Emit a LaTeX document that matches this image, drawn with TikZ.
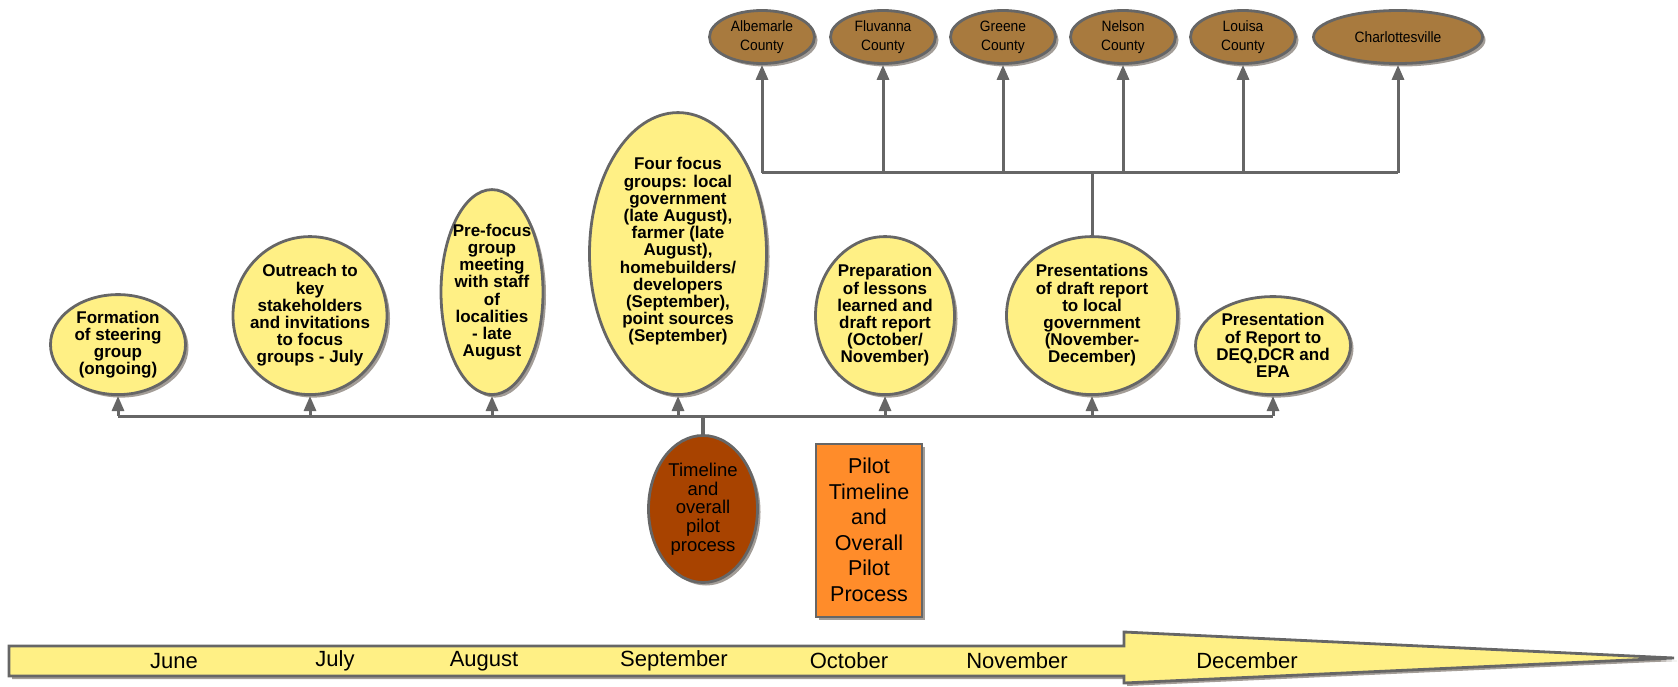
\documentclass[tikz,border=0pt]{standalone}
\usepackage{fontspec}
\setmainfont{Liberation Sans}
\newfontfamily\narrowfont[FakeStretch=0.92]{Liberation Sans}
\usetikzlibrary{shapes.geometric,arrows.meta,shadows}
\definecolor{lgray}{HTML}{666666}
\definecolor{pale}{HTML}{FFF085}
\definecolor{tan}{HTML}{A87A3E}
\definecolor{rust}{HTML}{A84300}
\definecolor{orng}{HTML}{FF8C2A}
\definecolor{shd}{HTML}{A39D97}

\begin{document}
\begin{tikzpicture}[x=1pt, y=-1pt,
  shad/.style={drop shadow={shadow xshift=3pt, shadow yshift=-3pt, fill=shd, opacity=1}},
  yel/.style={ellipse, draw=lgray, line width=2.8pt, fill=pale, shad, inner sep=0pt, anchor=south},
  ytxt/.style={align=center, font=\fontsize{17}{17.2}\selectfont\bfseries},
  cty/.style={ellipse, draw=lgray, line width=2.8pt, fill=tan, shad, inner sep=0pt, minimum width=105, minimum height=53},
  ctxt/.style={align=center, font=\narrowfont\fontsize{15}{19}\selectfont},
  mtxt/.style={font=\fontsize{22}{22}\selectfont},
  conn/.style={draw=lgray, line width=3pt, -{Triangle[width=12pt,length=15pt]}},
  wire/.style={draw=lgray, line width=3pt}]
            \useasboundingbox (0,0) rectangle (1678,687);
            % month bar
            \draw[draw=lgray, line width=2.8pt, fill=pale, shad] (9,646) -- (1124,646) -- (1124,632) -- (1674,658) -- (1124,683) -- (1124,676) -- (9,676) -- cycle;
            \foreach \mx/\mn in {174/June, 335/July, 484/August, 674/September, 849/October, 1017/November, 1247/December}
                \node[mtxt] (m-\mn) at (\mx,661) {\mn};
            % nodes
            \node[yel, minimum width=135, minimum height=100] (form) at (118,396) {};
            \node[ytxt] (form-t) at (form) {Formation\\of steering\\group\\(ongoing)};
            \node[yel, minimum width=154, minimum height=158] (outr) at (310,396) {};
            \node[ytxt] (outr-t) at (outr) {Outreach to\\key\\stakeholders\\and invitations\\to focus\\groups - July};
            \node[yel, minimum width=102, minimum height=205] (pref) at (492,396) {};
            \node[ytxt] (pref-t) at (pref) {Pre-focus\\group\\meeting\\with staff\\of\\localities\\- late\\August};
            \node[yel, minimum width=177, minimum height=282] (four) at (678,396) {};
            \node[ytxt] (four-t) at ([yshift=2pt]four.center) {Four focus\\groups: local\\government\\(late August),\\farmer (late\\August),\\homebuilders/\\developers\\(September),\\point sources\\(September)};
            \node[yel, minimum width=139, minimum height=158] (prep) at (885,396) {};
            \node[ytxt] (prep-t) at (prep) {Preparation\\of lessons\\learned and\\draft report\\(October/\\November)};
            \node[yel, minimum width=171, minimum height=158] (pres) at (1092,396) {};
            \node[ytxt] (pres-t) at (pres) {Presentations\\of draft report\\to local\\government\\(November-\\December)};
            \node[yel, minimum width=155, minimum height=98] (rept) at (1273,396) {};
            \node[ytxt] (rept-t) at (rept) {Presentation\\of Report to\\DEQ,DCR and\\EPA};
            \node[ellipse, draw=lgray, line width=2.8pt, fill=rust, shad, inner sep=0pt, minimum width=109, minimum height=147] (tl) at (703,509) {};
            \node[align=center, font=\fontsize{18.5}{18.7}\selectfont] (tl-t) at (tl) {Timeline\\and\\overall\\pilot\\process};
            \node[draw=lgray, line width=2pt, fill=orng, shad, minimum width=106, minimum height=173, align=center, font=\fontsize{21.5}{25.5}\selectfont] (pilot) at (869,530) {Pilot\\Timeline\\and\\Overall\\Pilot\\Process};
            \node[cty] (alb) at (762,37) {};
            \node[ctxt] (alb-t) at (alb) {Albemarle\\County};
            \node[cty] (flu) at (883,37) {};
            \node[ctxt] (flu-t) at (flu) {Fluvanna\\County};
            \node[cty] (gre) at (1003,37) {};
            \node[ctxt] (gre-t) at (gre) {Greene\\County};
            \node[cty] (nel) at (1123,37) {};
            \node[ctxt] (nel-t) at (nel) {Nelson\\County};
            \node[cty] (lou) at (1243,37) {};
            \node[ctxt] (lou-t) at (lou) {Louisa\\County};
            \node[cty, minimum width=169] (cha) at (1398,37) {};
            \node[ctxt] (cha-t) at (cha) {Charlottesville};
            % edges
            \coordinate (h1) at (118,416);
            \coordinate (h2) at (310,416);
            \coordinate (h3) at (492,416);
            \coordinate (h4) at (678,416);
            \coordinate (h5) at (885,416);
            \coordinate (h6) at (1092,416);
            \coordinate (h7) at (1273,416);
            \coordinate (ht) at (703,416);
            \draw[wire] (h1) -- (h7);
            \draw[wire, line width=4pt] (ht) -- (tl.north);
            \draw[conn] (h1) -- (form);
            \draw[conn] (h2) -- (outr);
            \draw[conn] (h3) -- (pref);
            \draw[conn] (h4) -- (four);
            \draw[conn] (h5) -- (prep);
            \draw[conn] (h6) -- (pres);
            \draw[conn] (h7) -- (rept);
            \coordinate (k1) at (762,173);
            \coordinate (k2) at (883,173);
            \coordinate (k3) at (1003,173);
            \coordinate (k4) at (1123,173);
            \coordinate (k5) at (1243,173);
            \coordinate (k6) at (1398,173);
            \coordinate (kp) at (1092,173);
            \draw[wire] (k1) -- (k6);
            \draw[wire] (pres.north) -- (kp);
            \draw[conn] (k1) -- (alb);
            \draw[conn] (k2) -- (flu);
            \draw[conn] (k3) -- (gre);
            \draw[conn] (k4) -- (nel);
            \draw[conn] (k5) -- (lou);
            \draw[conn] (k6) -- (cha);
\end{tikzpicture}
\end{document}
